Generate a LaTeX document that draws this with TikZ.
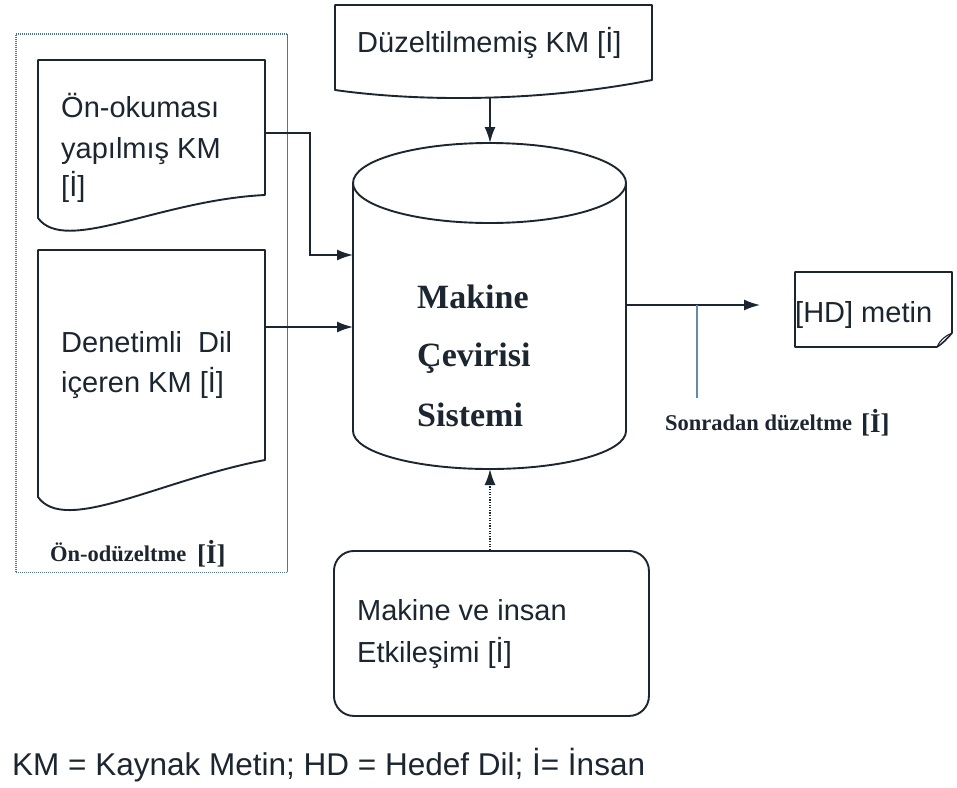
\documentclass[tikz,border=0pt]{standalone}
\usepackage{fontspec}
\setmainfont{Liberation Sans}
\newfontfamily\tnr{Liberation Serif}
\usetikzlibrary{arrows.meta}

\definecolor{ink}{RGB}{28,38,48}
\definecolor{framecol}{RGB}{80,118,148}
\definecolor{tickcol}{RGB}{100,140,168}

\tikzset{
  shapeline/.style={draw=ink, line width=1.9pt, line join=round},
  flow/.style={draw=ink, line width=1.7pt, -{Latex[length=16pt,width=11pt]}},
  dotflow/.style={flow, dash pattern=on 1.3pt off 1.3pt},
  framedots/.style={draw=framecol, line width=1.3pt, dash pattern=on 1pt off 1pt},
  txt/.style={anchor=base west, inner sep=0pt, text=ink, font=\fontsize{29}{35}\selectfont},
  systxt/.style={anchor=base west, inner sep=0pt, text=ink, font=\tnr\bfseries\fontsize{34}{40}\selectfont},
  lbl/.style={anchor=base west, inner sep=0pt, text=ink, font=\tnr\bfseries\fontsize{22.5}{26}\selectfont},
  lblbig/.style={anchor=base west, inner sep=0pt, text=ink, font=\tnr\bfseries\fontsize{27}{30}\selectfont},
}

\begin{document}
\begin{tikzpicture}[x=1pt, y=-1pt]
  \fill[white] (0,0) rectangle (957,787);
  \useasboundingbox (0,0) rectangle (957,787);

  % pre-editing group frame: dotted on three sides, solid on the right
  \node (grp) [minimum width=271pt, minimum height=538pt, anchor=north west, inner sep=0pt] at (16,34) {};
  \draw[framedots] (grp.north east) -- (grp.north west) -- (grp.south west) -- (grp.south east);
  \draw[framecol, line width=1.3pt] (grp.north east) -- (grp.south east);

  % pre-read source text (document shape)
  \draw[shapeline] (38,218) -- (38,60) -- (265,60) -- (265,195)
    .. controls (160,200) and (65,255) .. cycle;
  \node (d1a) [txt] at (61,117.5) {Ön-okuması};
  \node (d1b) [txt] at (61,158) {yapılmış KM};
  \node (d1c) [txt] at (61,196) {[İ]};

  % controlled-language source text (document shape)
  \draw[shapeline] (38,497) -- (38,250) -- (265,250) -- (265,460)
    .. controls (160,480) and (65,535) .. cycle;
  \node (d2a) [txt] at (61,352.5) {Denetimli\ \ Dil};
  \node (d2b) [txt] at (61,392.5) {içeren KM [İ]};

  \node (grplbl) [lbl] at (50,561) {Ön-odüzeltme};
  \node (grplblI) [lblbig] at (197,563) {[İ]};

  % unedited source text (document shape)
  \draw[shapeline] (335,90) -- (335,5) -- (652,5) -- (652,80)
    .. controls (540,102) and (420,102) .. cycle;
  \node (d0) [txt] at (357,52.5) {Düzeltilmemiş KM [İ]};

  % machine translation system (cylinder)
  \draw[shapeline] (353,183) .. controls (353,160.9) and (414.1,143) .. (489.5,143)
    .. controls (564.9,143) and (626,160.9) .. (626,183)
    .. controls (626,205.1) and (564.9,223) .. (489.5,223)
    .. controls (414.1,223) and (353,205.1) .. cycle;
  \draw[shapeline] (353,183) -- (353,431)
    .. controls (353,452) and (414.1,469) .. (489.5,469)
    .. controls (564.9,469) and (626,452) .. (626,431) -- (626,183);
  \node (s1) [systxt] at (417,308) {Makine};
  \node (s2) [systxt] at (417,366) {Çevirisi};
  \node (s3) [systxt] at (417,426) {Sistemi};

  % target-language text (page with curled corner)
  \draw[shapeline, line width=1.6pt] (795,272) -- (952,272) -- (952,333)
    .. controls (947,339) and (942,344) .. (937,347) -- (795,347) -- cycle;
  \draw[ink, line width=1.1pt] (937,347) .. controls (940,340) and (945,336) .. (952,333);
  \node (hd) [txt] at (795,322.5) {[HD] metin};

  % human-machine interaction box
  \node (mi) [shapeline, rounded corners=20pt, minimum width=315pt, minimum height=165pt,
    anchor=north west, inner sep=0pt] at (333,550) {};
  \node (mia) [txt] at (357,620.5) {Makine ve insan};
  \node (mib) [txt] at (357,662.5) {Etkileşimi [İ]};

  % post-editing label
  \node (post) [lbl] at (665,430) {Sonradan düzeltme};
  \node (postI) [lblbig] at (861,432) {[İ]};

  % connector ports
  \coordinate (d1port) at (265,133);
  \coordinate (cin1) at (353,255);
  \coordinate (d2port) at (265,327);
  \coordinate (cin2) at (353,327);
  \coordinate (d0port) at (490,98);
  \coordinate (ctop) at (490,143);
  \coordinate (cout) at (626,305);
  \coordinate (hdin) at (760,305);
  \coordinate (cbot) at (490,469);
  \coordinate (tickA) at (697,305);
  \coordinate (tickB) at (697,398);

  \draw[flow] (d1port) -- ++(45,0) |- (cin1);
  \draw[flow] (d2port) -- (cin2);
  \draw[flow] (d0port) -- (ctop);
  \draw[flow] (cout) -- (hdin);
  \draw[dotflow] (mi.north -| cbot) -- (cbot);
  \draw[tickcol, line width=1.2pt] (tickA) -- (tickB);

  % legend
  \node (legend) [txt, font=\fontsize{31.5}{36}\selectfont] at (12,775) {KM = Kaynak Metin; HD = Hedef Dil; İ= İnsan};
\end{tikzpicture}
\end{document}
